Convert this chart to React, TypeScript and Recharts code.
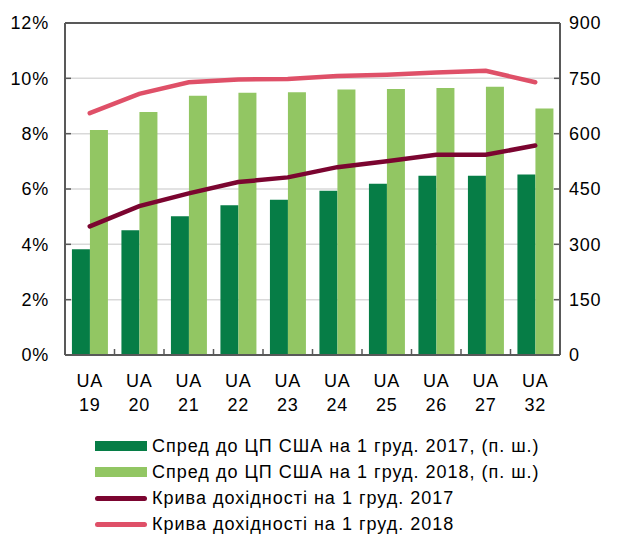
import React from 'react';
import {
  ComposedChart,
  Bar,
  Line,
  XAxis,
  YAxis,
  CartesianGrid,
  ReferenceLine,
} from 'recharts';

const bonds = ['19', '20', '21', '22', '23', '24', '25', '26', '27', '32'];
const spread2017 = [287, 338, 376, 406, 421, 445, 464, 486, 486, 489];
const spread2018 = [610, 659, 703, 711, 712, 720, 721, 724, 727, 668];
const yield2017 = [4.65, 5.38, 5.84, 6.25, 6.42, 6.79, 7.0, 7.24, 7.24, 7.57];
const yield2018 = [8.74, 9.44, 9.86, 9.96, 9.98, 10.08, 10.13, 10.21, 10.27, 9.86];
const leftTicks = [0, 2, 4, 6, 8, 10, 12];
const rightTicks = [0, 150, 300, 450, 600, 750, 900];

const C_DARK = '#067d46';
const C_LIGHT = '#92c663';
const C_Y17 = '#7b0530';
const C_Y18 = '#df5068';
const AXIS = '#595959';
const FONT = '"Liberation Sans", Arial, sans-serif';

const data = bonds.map((b, i) => ({
  name: b,
  s17: spread2017[i],
  s18: spread2018[i],
  y17: yield2017[i],
  y18: yield2018[i],
}));

const legendItems = [
  { label: 'Спред до ЦП США на 1 груд. 2017, (п. ш.)', color: C_DARK, kind: 'bar' },
  { label: 'Спред до ЦП США на 1 груд. 2018, (п. ш.)', color: C_LIGHT, kind: 'bar' },
  { label: 'Крива дохідності на 1 груд. 2017', color: C_Y17, kind: 'line' },
  { label: 'Крива дохідності на 1 груд. 2018', color: C_Y18, kind: 'line' },
];

const tickStyle = { fill: '#000', fontSize: 18, fontFamily: FONT, letterSpacing: 0.8 };

const XTick = (props: any) => {
  const { x, y, payload, index, width } = props;
  const band = width / bonds.length;
  return (
    <g>
      {index > 0 && (
        <line x1={x - band / 2} x2={x - band / 2} y1={y} y2={y - 6} stroke={AXIS} strokeWidth={1.5} />
      )}
      <text x={x} y={y} textAnchor="middle" fill="#000" fontSize={18} fontFamily={FONT} letterSpacing={0.8}>
        <tspan x={x} dy={32}>UA</tspan>
        <tspan x={x} dy={24}>{payload.value}</tspan>
      </text>
    </g>
  );
};

export default function App() {
  return (
    <div style={{ position: 'absolute', left: 0, top: 0, width: 624, height: 534, background: '#fff', fontFamily: FONT }}>
      <ComposedChart
        width={624}
        height={534}
        data={data}
        margin={{ top: 23, right: 0, bottom: 119, left: 0 }}
        barCategoryGap="14%"
        barGap={0}
      >
        <CartesianGrid vertical={false} stroke="#d9d9d9" strokeWidth={1.5} yAxisId="left" />
        <XAxis
          dataKey="name"
          height={60}
          tickSize={0}
          tickMargin={0}
          tickLine={false}
          axisLine={{ stroke: AXIS, strokeWidth: 2 }}
          tick={<XTick />}
          interval={0}
        />
        <YAxis
          yAxisId="left"
          orientation="left"
          width={65}
          domain={[0, 12]}
          ticks={leftTicks}
          tickFormatter={(v: number) => `${v}%`}
          tickSize={-6}
          tickMargin={22}
          tickLine={{ stroke: AXIS, strokeWidth: 1.5 }}
          axisLine={{ stroke: AXIS, strokeWidth: 2 }}
          tick={tickStyle}
        />
        <YAxis
          yAxisId="right"
          orientation="right"
          width={64}
          domain={[0, 900]}
          ticks={rightTicks}
          tickSize={-6}
          tickMargin={15}
          tickLine={{ stroke: AXIS, strokeWidth: 1.5 }}
          axisLine={{ stroke: AXIS, strokeWidth: 2 }}
          tick={tickStyle}
        />
        <ReferenceLine yAxisId="left" y={12} stroke={AXIS} strokeWidth={2} />
        <Bar yAxisId="right" dataKey="s17" fill={C_DARK} isAnimationActive={false} />
        <Bar yAxisId="right" dataKey="s18" fill={C_LIGHT} isAnimationActive={false} />
        <Line
          yAxisId="left"
          dataKey="y17"
          stroke={C_Y17}
          strokeWidth={4.5}
          strokeLinecap="round"
          dot={false}
          isAnimationActive={false}
        />
        <Line
          yAxisId="left"
          dataKey="y18"
          stroke={C_Y18}
          strokeWidth={4.5}
          strokeLinecap="round"
          dot={false}
          isAnimationActive={false}
        />
      </ComposedChart>
      <div style={{ position: 'absolute', left: 95, top: 433 }}>
        {legendItems.map((it) => (
          <div key={it.label} style={{ display: 'flex', alignItems: 'center', height: 26 }}>
            <div style={{ width: 52, display: 'flex', alignItems: 'center' }}>
              {it.kind === 'bar' ? (
                <div style={{ width: 52, height: 10, background: it.color }} />
              ) : (
                <div style={{ width: 52, height: 5, borderRadius: 3, background: it.color }} />
              )}
            </div>
            <span style={{ marginLeft: 5, fontSize: 18, letterSpacing: 1.0, color: '#000', whiteSpace: 'nowrap' }}>
              {it.label}
            </span>
          </div>
        ))}
      </div>
    </div>
  );
}
